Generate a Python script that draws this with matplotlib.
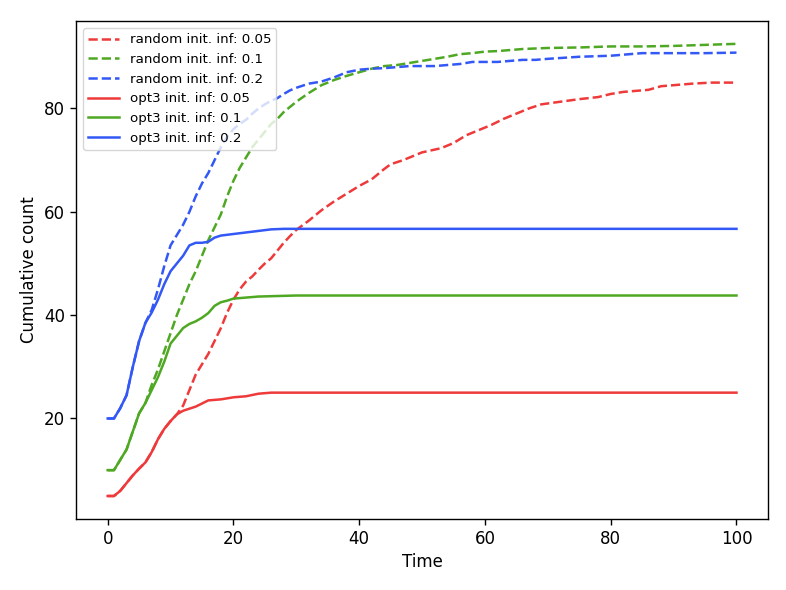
import matplotlib.pyplot as plt

# random initial infection
rand005_t = [0, 1, 2, 3, 4, 5, 6, 7, 8, 9, 10, 11, 12, 13, 14, 15, 16, 17, 18, 19, 20, 21, 22, 23, 24, 25, 26, 27, 28, 29, 30,
             32, 34, 36, 38, 40, 42, 44, 45, 47, 50, 53, 55, 57, 59, 61, 63, 65, 67, 69, 72, 75, 78, 80, 82, 84, 86, 88, 90, 93, 96, 100]
rand005_y = [5, 5, 6, 7.5, 9, 10.3, 11.5, 13.5, 16, 18, 19.5, 20.8, 22.5, 25.5, 28.5, 30.5, 32.5, 35, 37.5, 40.5,
             43, 45, 46.5, 47.5, 48.8, 50, 51, 52.5, 54, 55.3, 56.5, 58.3, 60.3, 62, 63.5, 65, 66.3, 68.3, 69.2, 70, 71.5,
             72.3, 73.3, 74.8, 75.8, 76.8, 78, 79, 80, 80.8, 81.3, 81.8, 82.2, 82.8, 83.2, 83.4, 83.6, 84.3, 84.5, 84.8, 85, 85]

rand01_t = list(range(0, 31)) + list(range(32, 71, 2)) + [75, 80, 85, 90, 95, 100]
rand01_y = [10, 10, 12, 14, 17.5, 21, 23, 26.5, 29.5, 33, 36.5, 40, 43, 46, 48.5, 51.5, 54.5, 57, 59.5, 63,
            66, 68.5, 70.5, 72.5, 74, 75.5, 77, 78, 79.3, 80.3, 81.3, 83, 84.5, 85.5, 86.3, 87, 87.7, 88.2, 88.4, 88.8,
            89.2, 89.6, 90, 90.5, 90.7, 91, 91.1, 91.3, 91.5, 91.6, 91.7, 91.8, 92, 92, 92.1, 92.3, 92.5]

rand02_t = list(range(0, 31)) + list(range(32, 71, 2)) + [75, 80, 85, 90, 95, 100]
rand02_y = [20, 20, 22, 24.5, 30, 35, 38.5, 41, 45, 49.5, 53.5, 55.5, 57.5, 60, 63, 65.5, 67.5, 70, 72.5, 74.5,
            76, 77, 77.8, 79, 80, 80.8, 81.5, 82, 82.8, 83.5, 84, 84.8, 85.2, 86, 87, 87.5, 87.7, 87.8, 88, 88.2,
            88.2, 88.2, 88.4, 88.6, 89, 89, 89, 89.2, 89.4, 89.4, 89.6, 90, 90.2, 90.7, 90.7, 90.7, 90.8]

# opt3 initial infection
opt005_t = [0, 1, 2, 3, 4, 5, 6, 7, 8, 9, 10, 11, 12, 14, 16, 18, 20, 22, 24, 26, 27, 100]
opt005_y = [5, 5, 6, 7.5, 9, 10.3, 11.5, 13.5, 16, 18, 19.5, 20.8, 21.5, 22.3, 23.5, 23.7, 24.1, 24.3, 24.8, 25, 25, 25]

opt01_t = [0, 1, 2, 3, 4, 5, 6, 7, 8, 9, 10, 11, 12, 13, 14, 15, 16, 17, 18, 19, 20, 22, 24, 27, 30, 100]
opt01_y = [10, 10, 12, 14, 17.5, 21, 23, 25.5, 28, 31, 34.5, 36, 37.5, 38.3, 38.8, 39.5, 40.4, 41.8, 42.5, 42.8,
           43.2, 43.4, 43.6, 43.7, 43.8, 43.8]

opt02_t = [0, 1, 2, 3, 4, 5, 6, 7, 8, 9, 10, 11, 12, 13, 14, 15, 16, 17, 18, 20, 22, 24, 26, 28, 100]
opt02_y = [20, 20, 22, 24.5, 30, 35, 38.5, 40.5, 43, 46, 48.5, 50, 51.5, 53.5, 54, 54, 54.2, 55, 55.4, 55.7,
           56, 56.3, 56.6, 56.7, 56.7]

red = '#ee3a3a'
green = '#4fa823'
blue = '#3358f5'

fig = plt.figure(figsize=(7.86, 5.90), dpi=100)
ax = fig.add_axes([0.097, 0.121, 0.880, 0.843])

lw = 1.8
ax.plot(rand005_t, rand005_y, '--', color=red, lw=lw, label='random init. inf: 0.05')
ax.plot(rand01_t, rand01_y, '--', color=green, lw=lw, label='random init. inf: 0.1')
ax.plot(rand02_t, rand02_y, '--', color=blue, lw=lw, label='random init. inf: 0.2')
ax.plot(opt005_t, opt005_y, '-', color=red, lw=lw, label='opt3 init. inf: 0.05')
ax.plot(opt01_t, opt01_y, '-', color=green, lw=lw, label='opt3 init. inf: 0.1')
ax.plot(opt02_t, opt02_y, '-', color=blue, lw=lw, label='opt3 init. inf: 0.2')

ax.set_xticks([0, 20, 40, 60, 80, 100])
ax.set_yticks([20, 40, 60, 80])
ax.tick_params(labelsize=12, length=4.5, width=1.0)
for s in ax.spines.values():
    s.set_linewidth(1.0)
ax.set_xlabel('Time', fontsize=12)
ax.set_ylabel('Cumulative count', fontsize=12)
ax.legend(loc='upper left', fontsize=9.6, handlelength=2.3)

plt.savefig('out.png', dpi=100)
